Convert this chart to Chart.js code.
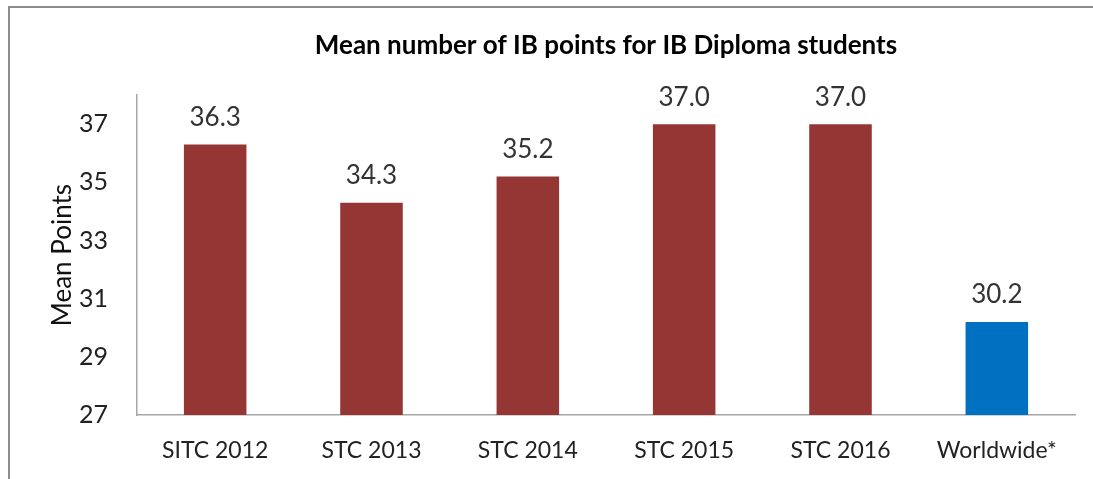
<!DOCTYPE html>
<html>
<head>
<meta charset="utf-8">
<script src="https://cdn.jsdelivr.net/npm/chart.js@4"></script>
<style>
  html, body { margin: 0; padding: 0; background: #fff; overflow: hidden; }
  #frame {
    position: absolute; left: 8px; top: 6px; width: 1200px; height: 600px;
    border-left: 2px solid #8c8c8c; border-top: 2px solid #8c8c8c;
  }
  #wrap { position: absolute; left: 0; top: 0; width: 1093px; height: 479px; }
</style>
</head>
<body>
<div id="frame"></div>
<div id="wrap"><canvas id="myChart"></canvas></div>
<script>
// Categories along the x-axis
var groups = ['SITC 2012', 'STC 2013', 'STC 2014', 'STC 2015', 'STC 2016', 'Worldwide*'];
// Mean IB points per group
var meanPoints = [36.3, 34.3, 35.2, 37.0, 37.0, 30.2];
var barColors = ['#943634', '#943634', '#943634', '#943634', '#943634', '#0070C0'];
// Labels on the y-axis
var yTicks = [27, 29, 31, 33, 35, 37];

// writes the value above each bar
var valueLabels = {
  id: 'valueLabels',
  afterDatasetsDraw: function(chart) {
    var ctx = chart.ctx;
    var meta = chart.getDatasetMeta(0);
    ctx.save();
    ctx.font = '26px Lato';
    ctx.fillStyle = '#333333';
    ctx.textAlign = 'center';
    ctx.textBaseline = 'middle';
    meta.data.forEach(function(bar, i) {
      ctx.fillText(meanPoints[i].toFixed(1), bar.x, bar.y - 27);
    });
    ctx.restore();
  }
};

var ctx = document.getElementById('myChart');
var myChart = new Chart(ctx, {
  type: 'bar',
  data: {
    labels: groups,
    datasets: [{
      data: meanPoints,
      backgroundColor: barColors,
      barPercentage: 0.4,
      categoryPercentage: 1
    }]
  },
  options: {
    responsive: true,
    maintainAspectRatio: false,
    animation: false,
    layout: { padding: { left: 0, right: 18, top: 0, bottom: 0 } },
    plugins: {
      legend: { display: false },
      tooltip: { enabled: false },
      title: {
        display: true,
        fullSize: false,
        text: 'Mean number of IB points for IB Diploma students',
        color: '#000',
        font: { family: 'Lato', size: 26, weight: 'bold' },
        padding: { top: 30, bottom: 34 }
      }
    },
    scales: {
      x: {
        grid: { display: false },
        border: { display: true, color: '#a6a6a6', width: 1.5 },
        afterFit: function(scale) { scale.height = 64; },
        ticks: { color: '#222', font: { family: 'Lato', size: 23 }, padding: 14 }
      },
      y: {
        min: 27,
        max: 38,
        grid: { display: false },
        border: { display: true, color: '#a6a6a6', width: 1.5 },
        afterBuildTicks: function(scale) {
          scale.ticks = yTicks.map(function(v) { return { value: v }; });
        },
        afterFit: function(scale) { scale.width = 137; },
        ticks: { color: '#222', font: { family: 'Lato', size: 25 }, padding: 21 },
        title: {
          display: true,
          text: 'Mean Points',
          color: '#111',
          font: { family: 'Lato', size: 26 },
          padding: { top: 47 }
        }
      }
    }
  },
  plugins: [valueLabels]
});
</script>
</body>
</html>
